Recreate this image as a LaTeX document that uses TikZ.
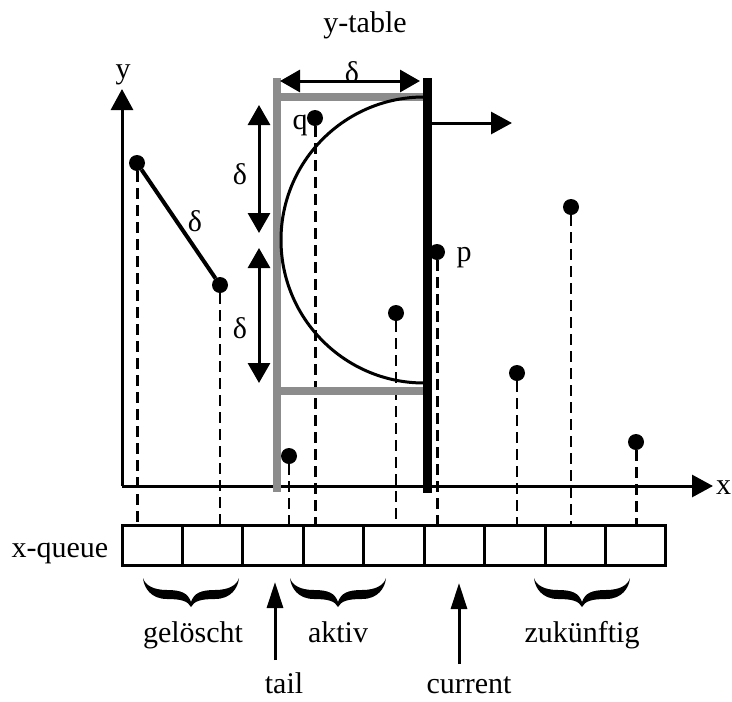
\documentclass[tikz,border=0pt]{standalone}
\usepackage{fontspec}
\setmainfont{Liberation Serif}
\usetikzlibrary{arrows.meta}
\definecolor{barGray}{RGB}{140,140,140}
\tikzset{
  calbrace/.pic={
    \fill (0,0) .. controls (1,10) and (8,21) .. (24,21)
      .. controls (38,21) and (45,23) .. (48,29)
      .. controls (51,23) and (58,21) .. (72,21)
      .. controls (88,21) and (95,10) .. (96,0)
      .. controls (94,7) and (86,12) .. (72,12)
      .. controls (58,12) and (51,15) .. (48,24)
      .. controls (45,15) and (38,12) .. (24,12)
      .. controls (10,12) and (2,7) .. (0,0) -- cycle;
  }
}
\begin{document}
\begin{tikzpicture}[x=1pt,y=-1pt,
  every node/.style={font=\fontsize{30}{36}\selectfont, inner sep=0pt, outer sep=0pt},
  lbl/.style={anchor=base},
  dlt/.style={anchor=base, font=\fontsize{30}{36}\selectfont},
  dot/.style={circle, fill=black, minimum size=16pt},
  cell/.style={draw, line width=3pt, minimum width=60.44pt, minimum height=40pt},
  axis/.style={line width=3pt, -{Triangle[length=21pt,width=22pt]}},
  dimarrow/.style={line width=3pt, {Triangle[length=20pt,width=22pt]}-{Triangle[length=20pt,width=22pt]}},
  pointer/.style={line width=3pt, -{Triangle[length=26pt,width=16pt]}},
  thickdash/.style={line width=3pt, dash pattern=on 11pt off 6pt},
  thindash/.style={line width=1.8pt, dash pattern=on 11pt off 6pt},
  graybar/.style={line width=8pt, draw=barGray},
  sweep/.style={line width=9pt}
]
\useasboundingbox (0,0) rectangle (732,702);

% axes
\coordinate (origin) at (122,486);
\coordinate (xend) at (713,486);
\coordinate (yend) at (122,89);
\draw[axis] (origin) -- (xend);
\draw[axis] (origin) -- (yend);
\node[lbl] (ylab) at (123,78) {y};
\node[anchor=base west] (xlab) at (716,494) {x};

% x-queue
\foreach \i in {1,...,9}
  \node[cell] (c\i) at ({122+60.44*(\i-0.5)},545) {};
\coordinate (qtop) at (0,525);
\node[anchor=base] (xq) at (60,557) {x-queue};

% points of the plane
\node[dot] (d1) at (137,163) {};
\node[dot] (d2) at (220,285) {};
\node[dot] (q)  at (315,118) {};
\node[dot] (d4) at (289,456) {};
\node[dot] (d5) at (396,313) {};
\node[dot] (p)  at (437,252) {};
\node[dot] (d7) at (517,373) {};
\node[dot] (d8) at (571,207) {};
\node[dot] (d9) at (636,442) {};

% projections onto the queue
\draw[thickdash] (d1) -- (d1 |- qtop);
\draw[thickdash] (q)  -- (q  |- qtop);
\draw[thickdash] (p)  -- (p  |- qtop);
\draw[thickdash] (d9) -- (d9 |- qtop);
\draw[thindash] (d2) -- (d2 |- qtop);
\draw[thindash] (d4) -- (d4 |- qtop);
\draw[thindash] (d5) -- (d5 |- qtop);
\draw[thindash] (d7) -- (d7 |- qtop);
\draw[thindash] (d8) -- (d8 |- qtop);

% closest pair so far
\draw[line width=4pt] (d1) -- (d2);
\node[dlt] (dd) at (195,231) {δ};

% y-table window
\coordinate (gtop) at (277,78);
\coordinate (gbot) at (277,492);
\draw[graybar] (gtop) -- (gbot);
\draw[graybar] (277,97) -- (423,97);
\draw[graybar] (277,391) -- (423,391);

% search half circle
\draw[line width=3pt] (424,97) arc[start angle=270, end angle=90, radius=143];

% sweep line
\coordinate (stop) at (427,78);
\coordinate (sbot) at (427,493);
\draw[sweep] (stop) -- (sbot);
\coordinate (sfrom) at (432,123);
\coordinate (sto) at (512,123);
\draw[axis] (sfrom) -- (sto);

% labels of p and q
\node[lbl] (qlab) at (300,129) {q};
\node[lbl] (plab) at (464,261) {p};

% delta dimensions
\node[lbl] (yt) at (365,32) {y-table};
\node[dlt] (dtop) at (352,82) {δ};
\coordinate (wl) at (280,81);
\coordinate (wr) at (420,81);
\draw[dimarrow] (wl) -- (wr);
\coordinate (ua) at (259,105);
\coordinate (ub) at (259,233);
\coordinate (la) at (259,248);
\coordinate (lb) at (259,383);
\draw[dimarrow] (ua) -- (ub);
\draw[dimarrow] (la) -- (lb);
\node[dlt] (du) at (240,184) {δ};
\node[dlt] (dl) at (240,338) {δ};

% groups of the queue
\pic at (143,578) {calbrace};
\pic at (290,578) {calbrace};
\pic at (534,578) {calbrace};
\node[lbl] (gel) at (193,642) {gelöscht};
\node[lbl] (akt) at (338,642) {aktiv};
\node[lbl] (zuk) at (582,642) {zukünftig};

% pointers into the queue
\coordinate (tfoot) at (275,660);
\coordinate (ttip) at (275,582);
\draw[pointer] (tfoot) -- (ttip);
\node[lbl] (tail) at (284,693) {tail};
\coordinate (cfoot) at (459,664);
\coordinate (ctip) at (459,583);
\draw[pointer] (cfoot) -- (ctip);
\node[lbl] (cur) at (469,693) {current};
\end{tikzpicture}
\end{document}
